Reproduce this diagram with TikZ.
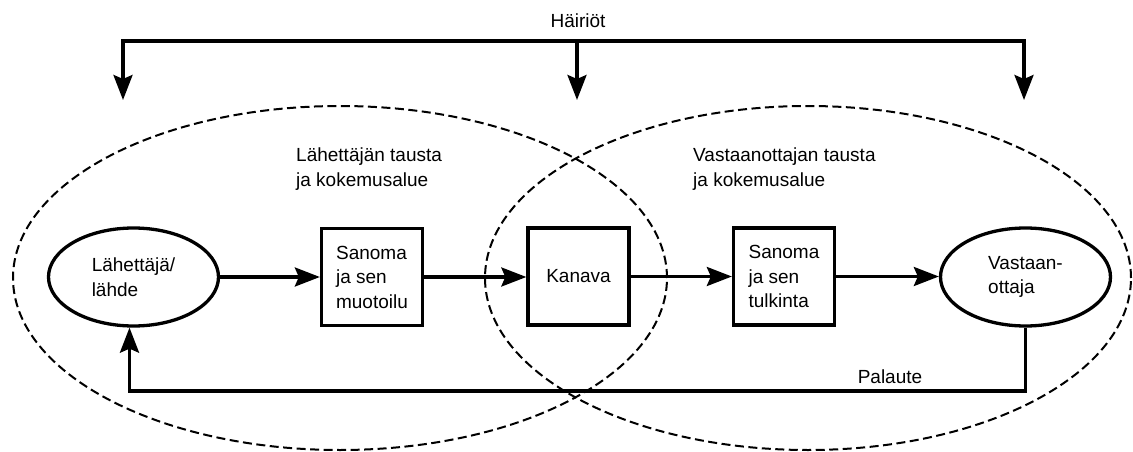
\documentclass[tikz,border=0pt]{standalone}
\usepackage{fontspec}
\setmainfont{Liberation Sans}
\usetikzlibrary{arrows.meta,shapes.geometric}
\begin{document}
\begin{tikzpicture}[x=1pt,y=-1pt,
  every node/.style={font=\fontsize{19}{24.5}\selectfont, inner sep=0pt},
  solidline/.style={line width=3.3pt, line join=miter},
  arr/.style={solidline, -{Stealth[length=25pt,width=19pt,inset=4pt]}},
  region/.style={line width=2pt, dash pattern=on 9pt off 4.5pt},
  roundnode/.style={ellipse, draw, line width=3.3pt, minimum width=170pt, minimum height=98pt, align=left},
  boxnode/.style={rectangle, draw, line width=3.3pt, minimum width=101pt, minimum height=97pt, align=left},
  regionlabel/.style={align=left, anchor=north west}
]
\useasboundingbox (0,0) rectangle (1133,452);

% background regions
\draw[region] (340,278) ellipse [x radius=327pt, y radius=172pt];
\draw[region] (808,278) ellipse [x radius=323pt, y radius=172pt];

\node[regionlabel] (lbl1) at (296,148) {Lähettäjän tausta\\ja kokemusalue};
\node[regionlabel] (lbl2) at (693,148) {Vastaanottajan tausta\\ja kokemusalue};

% main nodes
\node[roundnode] (send) at (133.5,277) {Lähettäjä/\\lähde};
\node[boxnode] (msg1) at (372,277) {Sanoma\\ja sen\\muotoilu};
\node[boxnode] (chan) at (578.5,276.5) {Kanava};
\node[boxnode] (msg2) at (784,276.5) {Sanoma\\ja sen\\tulkinta};
\node[roundnode] (recv) at (1025.5,277) {Vastaan-\\ottaja};

\draw[arr] (send.east) -- (msg1.west);
\draw[arr] (msg1.east) -- (msg1.east -| chan.west);
\draw[arr] (chan.east) -- (chan.east -| msg2.west);
\draw[arr] (msg2.east) -- (msg2.east -| recv.west);

% feedback
\coordinate (fb) at (0,391);
\draw[arr] (recv.south) -- (recv.south |- fb) -| ([xshift=-4pt]send.south);
\node[anchor=base] (pal) at (890,383) {Palaute};

% disturbances
\node[anchor=base] (hair) at (578,28) {Häiriöt};
\coordinate (bar) at (577,41);
\coordinate (d1) at (123,100);
\coordinate (d2) at (577,100);
\coordinate (d3) at (1024,100);
\draw[arr] (bar) -| (d1);
\draw[arr] (bar) -- (d2);
\draw[arr] (bar) -| (d3);
\end{tikzpicture}
\end{document}
